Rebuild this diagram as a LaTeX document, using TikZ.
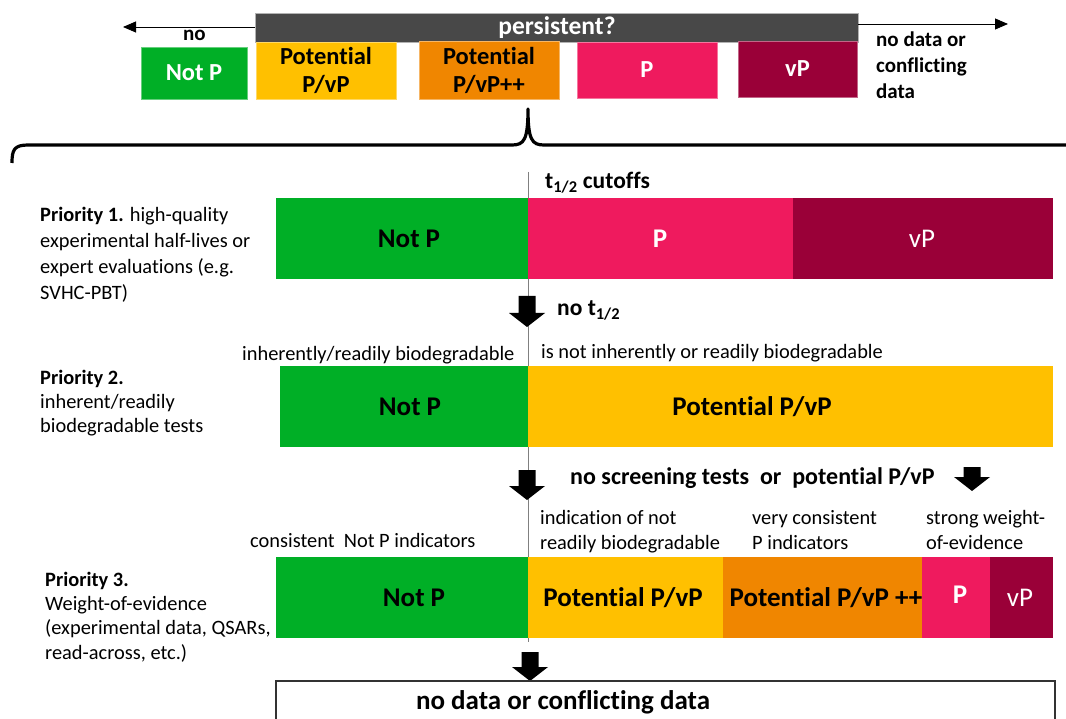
\documentclass[tikz,border=0pt]{standalone}
\usepackage{fontspec}
\setmainfont{Carlito}[Ligatures=NoCommon]
\usetikzlibrary{arrows.meta}
\definecolor{cgreen}{HTML}{00AF26}
\definecolor{cyellow}{HTML}{FFC000}
\definecolor{corange}{HTML}{F08600}
\definecolor{cpink}{HTML}{EF1A5E}
\definecolor{cmaroon}{HTML}{9A0038}
\definecolor{cbar}{HTML}{484848}
\definecolor{cline}{HTML}{808080}
\tikzset{
  seg/.style={anchor=north west, inner sep=0pt, outer sep=0pt, draw=none},
  bigtxt/.style={font=\bfseries\fontsize{27}{30}\selectfont, inner sep=0pt},
  toptxt/.style={font=\bfseries\fontsize{24.5}{28}\selectfont, align=center, inner sep=0pt},
  lbl/.style={font=\fontsize{20.4}{25}\selectfont, align=left, anchor=base west, inner sep=0pt},
  blbl/.style={font=\bfseries\fontsize{23.5}{26}\selectfont, align=left, anchor=base west, inner sep=0pt},
  blockarrow/.style={fill=black},
}
\newcommand\blkarrow[3]{%
  \fill[blockarrow] ({#1-8.5},{#2}) -- ({#1+8.5},{#2}) -- ({#1+8.5},{#3-14}) -- ({#1+18},{#3-14})
    -- ({#1},{#3}) -- ({#1-18},{#3-14}) -- ({#1-8.5},{#3-14}) -- cycle;}
\begin{document}
\begin{tikzpicture}[x=1pt,y=-1pt]
\useasboundingbox[fill=white] (0,0) rectangle (1066,719);

% ---------- top scale ----------
\node[seg, fill=cbar, draw=gray!60, minimum width=603pt, minimum height=29pt] (bar) at (255,13) {};
\node[font=\bfseries\fontsize{25.5}{28}\selectfont, text=white, inner sep=0pt] (barlbl) at (557,28) {persistent?};
\coordinate (lend) at (123,27);
\coordinate (rend) at (1008,24);
\draw[line width=0.9pt, -{Triangle[length=13pt,width=11pt]}] (bar.west |- lend) -- (lend);
\draw[line width=0.9pt, -{Triangle[length=13pt,width=11pt]}] (bar.east |- rend) -- (rend);
\node[blbl, font=\bfseries\fontsize{21}{26}\selectfont] (nolbl) at (183,41) {no};

\node[seg, fill=cgreen, draw=cgreen!60, minimum width=106pt, minimum height=52pt] (tnotp) at (141,47) {};
\node[seg, fill=cyellow, draw=cyellow!60, minimum width=140pt, minimum height=57pt] (tpot) at (256,42) {};
\node[seg, fill=corange, draw=corange!60, minimum width=140pt, minimum height=58pt] (tpotpp) at (419,41) {};
\node[seg, fill=cpink, draw=cpink!60, minimum width=140pt, minimum height=56pt] (tp) at (577,42) {};
\node[seg, fill=cmaroon, draw=cmaroon!60, minimum width=119pt, minimum height=56pt] (tvp) at (738,41) {};
\node[toptxt, text=white] (tnotpt) at (tnotp.center) {Not P};
\node[toptxt] (tpott) at (tpot.center) {Potential\\P/vP};
\node[toptxt] (tpotppt) at (tpotpp.center) {Potential\\P/vP++};
\node[toptxt, text=white] (tpt) at (tp.center) {P};
\node[toptxt, text=white] (tvpt) at (tvp.center) {vP};
\node[blbl, font=\bfseries\fontsize{21}{26}\selectfont] (nodatatop) at (876,99) {no data or\\conflicting\\data};

% ---------- brace ----------
\draw[line width=3.2pt, line join=round]
  (12,163) .. controls (12,150) and (14,145) .. (28,145) -- (512,145)
  .. controls (524,145) and (528,140) .. (528,109)
  .. controls (528,140) and (532,145) .. (544,145) -- (1070,145);

% ---------- centre line ----------
\coordinate (ctop) at (528,172);
\coordinate (cbot) at (528,642);
\draw[cline, line width=1pt] (ctop) -- (cbot);

% ---------- Priority 1 ----------
\node[lbl, font=\fontsize{20.4}{26}\selectfont] (pr1) at (40,300) {\textbf{Priority 1.} high-quality\\experimental half-lives or\\expert evaluations (e.g.\\SVHC-PBT)};
\node[blbl] (cut) at (545,189) {t\textsubscript{1/2} cutoffs};
\node[seg, fill=cgreen, minimum width=252pt, minimum height=81pt] (r1a) at (276,198) {};
\node[seg, fill=cpink, minimum width=265pt, minimum height=81pt] (r1b) at (528,198) {};
\node[seg, fill=cmaroon, minimum width=260pt, minimum height=81pt] (r1c) at (793,198) {};
\node[bigtxt] (r1at) at (409,239) {Not P};
\node[bigtxt, text=white] (r1bt) at (660,239) {P};
\node[bigtxt, font=\fontsize{27}{30}\selectfont, text=white] (r1ct) at (922,239) {vP};

\blkarrow{527}{296}{327}
\node[blbl] (not12) at (557,316) {no t\textsubscript{1/2}};

% ---------- Priority 2 ----------
\node[lbl] (l2a) at (242,361) {inherently/readily biodegradable};
\node[lbl] (l2b) at (541,359) {is not inherently or readily biodegradable};
\node[lbl, font=\fontsize{20.4}{24}\selectfont] (pr2) at (40,432) {\textbf{Priority 2.}\\inherent/readily\\biodegradable tests};
\node[seg, fill=cgreen, minimum width=248pt, minimum height=81pt] (r2a) at (280,366) {};
\node[seg, fill=cyellow, minimum width=525pt, minimum height=81pt] (r2b) at (528,366) {};
\node[bigtxt] (r2at) at (410,407) {Not P};
\node[bigtxt] (r2bt) at (752,407) {Potential P/vP};

\blkarrow{527}{470}{500}
\blkarrow{972}{467}{491}
\node[blbl, font=\bfseries\fontsize{24}{26}\selectfont] (noscr) at (570,484) {no screening tests\ \ or\ \ potential P/vP};

% ---------- Priority 3 ----------
\node[lbl] (l3a) at (250,547) {consistent\ \ Not P indicators};
\node[lbl] (l3b) at (540,549) {indication of not\\readily biodegradable};
\node[lbl] (l3c) at (752,549) {very consistent\\P indicators};
\node[lbl] (l3d) at (926,549) {strong weight-\\of-evidence};
\node[lbl, font=\fontsize{20.4}{24.3}\selectfont] (pr3) at (45,659) {\textbf{Priority 3.}\\Weight-of-evidence\\(experimental data, QSARs,\\read-across, etc.)};
\node[seg, fill=cgreen, minimum width=252pt, minimum height=81pt] (r3a) at (276,557) {};
\node[seg, fill=cyellow, minimum width=195pt, minimum height=81pt] (r3b) at (528,557) {};
\node[seg, fill=corange, minimum width=200pt, minimum height=81pt] (r3c) at (723,557) {};
\node[seg, fill=cpink, minimum width=68pt, minimum height=81pt] (r3d) at (922,557) {};
\node[seg, fill=cmaroon, minimum width=63pt, minimum height=81pt] (r3e) at (990,557) {};
\node[bigtxt] (r3at) at (414,598) {Not P};
\node[bigtxt] (r3bt) at (623,598) {Potential P/vP};
\node[bigtxt] (r3ct) at (826,598) {Potential P/vP ++};
\node[bigtxt, text=white] (r3dt) at (960,595) {P};
\node[bigtxt, font=\fontsize{27}{30}\selectfont, text=white] (r3et) at (1020,598) {vP};

\blkarrow{530}{652}{681}

% ---------- bottom ----------
\node[seg, draw=black!80, line width=1.2pt, minimum width=779pt, minimum height=60pt] (nodata) at (276,681) {};
\node[font=\bfseries\fontsize{27}{30}\selectfont, inner sep=0pt] (nodatat) at (563,702) {no data or conflicting data};
\end{tikzpicture}
\end{document}
